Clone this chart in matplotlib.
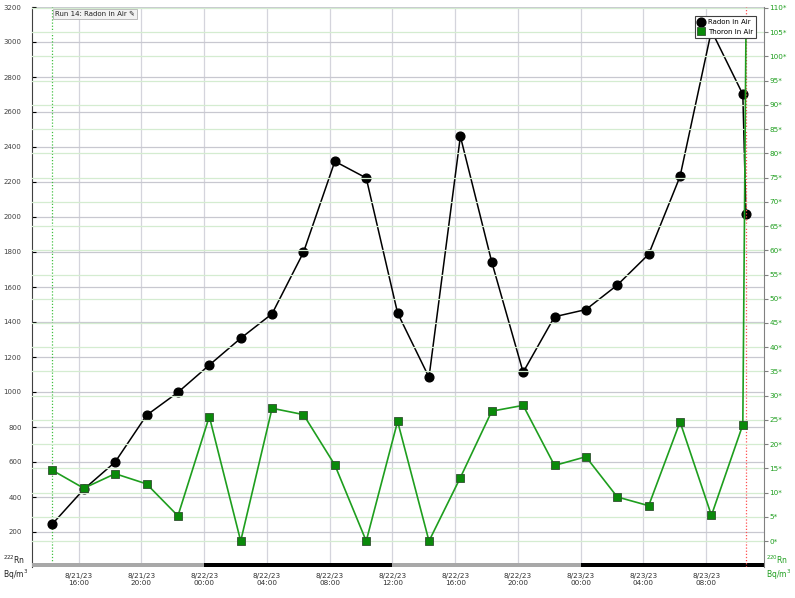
import matplotlib
matplotlib.use("Agg")
import matplotlib.pyplot as plt
import matplotlib.dates as mdates
from matplotlib.ticker import FuncFormatter, MultipleLocator
import pandas as pd

# measurement times (2 h cycles, last one partial)
times = pd.to_datetime([
    "2023-08-21 14:20", "2023-08-21 16:20", "2023-08-21 18:20", "2023-08-21 20:20",
    "2023-08-21 22:20", "2023-08-22 00:20", "2023-08-22 02:20", "2023-08-22 04:20",
    "2023-08-22 06:20", "2023-08-22 08:20", "2023-08-22 10:20", "2023-08-22 12:20",
    "2023-08-22 14:20", "2023-08-22 16:20", "2023-08-22 18:20", "2023-08-22 20:20",
    "2023-08-22 22:20", "2023-08-23 00:20", "2023-08-23 02:20", "2023-08-23 04:20",
    "2023-08-23 06:20", "2023-08-23 08:20", "2023-08-23 10:20", "2023-08-23 10:32",
])
radon = [246, 444, 600, 867, 998, 1154, 1307, 1447, 1798, 2318, 2223, 1451,
         1084, 2461, 1743, 1113, 1430, 1471, 1611, 1787, 2232, 3065, 2701, 2019]
thoron = [14.6, 10.9, 13.9, 11.8, 5.2, 25.7, 0.0, 27.4, 26.1, 15.7, 0.0, 24.7,
          0.0, 13.1, 26.8, 28.0, 15.6, 17.4, 9.1, 7.3, 24.6, 5.3, 24.0, 105.0]

# day / night bar along the bottom
bands = pd.to_datetime(["2023-08-21 12:00", "2023-08-22 00:00", "2023-08-22 12:00",
                        "2023-08-23 00:00", "2023-08-23 12:00"])
band_colors = ["#a8a8a8", "black", "#a8a8a8", "black"]

green = "#1e9e1e"

fig = plt.figure(figsize=(7.95, 5.98), dpi=100)
ax = fig.add_axes([32/795, (598-567)/598, (764-32)/795, 560/598])
ax2 = ax.twinx()

ax.set_xlim(pd.Timestamp("2023-08-21 13:02"), pd.Timestamp("2023-08-23 11:41"))
ax.set_ylim(0, 3200)
ax2.set_ylim(-5.35, 110.2)

# grids
ax.yaxis.set_major_locator(MultipleLocator(200))
ax.grid(axis="y", color="#c8c8d0", lw=0.9)
ax.xaxis.set_major_locator(mdates.HourLocator(byhour=[0, 4, 8, 12, 16, 20]))
ax.grid(axis="x", color="#d4d4dc", lw=0.9)
ax2.yaxis.set_major_locator(MultipleLocator(5))
for v in range(0, 111, 5):
    ax2.axhline(v, color="#d4ecd0", lw=0.9, zorder=0)
ax.set_axisbelow(True)

for i in range(len(band_colors)):
    ax.axvspan(bands[i], bands[i+1], ymin=0, ymax=4/560, color=band_colors[i], lw=0, zorder=3)

ax.axvline(times[0], color="#40c040", ls=(0, (1, 1.5)), lw=0.9)
ax.axvline(times[-1], color="#ff5050", ls=(0, (1, 1.5)), lw=0.9, zorder=6)

l1, = ax.plot(times, radon, color="black", lw=1.1, marker="o", ms=6.3,
              label="Radon in Air", zorder=4)
l2, = ax2.plot(times, thoron, color=green, lw=1.2, marker="s", ms=5.3,
               mfc="#0a8a0a", mec="#305030", mew=0.6, label="Thoron In Air", zorder=5)

# tick labels
def fmt(x, pos):
    d = mdates.num2date(x)
    return f"{d.month}/{d.day}/{d:%y}\n{d:%H:%M}"
ax.xaxis.set_major_formatter(FuncFormatter(fmt))
ax.tick_params(axis="x", length=0, pad=4, labelsize=5.2, labelcolor="#303030")
ax.set_yticks(range(200, 3201, 200))
ax.tick_params(axis="y", direction="in", length=3, labelsize=5, labelcolor="#404040", pad=7.5)
ax2.set_yticks(range(0, 111, 5))
ax2.set_yticklabels([f"{v}*" for v in range(0, 111, 5)])
ax2.tick_params(axis="y", direction="out", length=3, labelsize=5.2, labelcolor=green,
                color="#808080", pad=1)

for a in (ax, ax2):
    a.spines["top"].set_visible(False)
    a.spines["bottom"].set_visible(False)
ax.spines["left"].set_color("#404040")
ax.spines["right"].set_visible(False)
ax2.spines["right"].set_color("#808080")
ax2.spines["left"].set_visible(False)

# unit labels
fig.text(3/795, 1 - 566/598, "$^{222}$Rn", fontsize=5.5, color="#202020", va="bottom")
fig.text(3/795, 1 - 568/598, "Bq/m$^3$", fontsize=5.5, color="#202020", va="top")
fig.text(766/795, 1 - 566/598, "$^{220}$Rn", fontsize=5.5, color=green, va="bottom")
fig.text(766/795, 1 - 568/598, "Bq/m$^3$", fontsize=5.5, color=green, va="top")

# run title box
ax.text((55-32)/732, (567-14)/560, "Run 14: Radon in Air \u270e", transform=ax.transAxes,
        fontsize=5, va="center", ha="left", color="#202020", zorder=8,
        bbox=dict(boxstyle="square,pad=0.3", fc="#f2f2f2", ec="#b0b0b0", lw=0.6))

leg = ax2.legend([l1, l2], ["Radon in Air", "Thoron In Air"], loc="upper right",
                 bbox_to_anchor=((759-32)/732, (567-13)/560), fontsize=5,
                 fancybox=False, framealpha=1, edgecolor="#404040",
                 handlelength=0.9, handletextpad=0.5, borderpad=0.4, labelspacing=0.5)
leg.get_frame().set_linewidth(0.8)
for h in leg.legend_handles:
    h.set_linestyle("none")
leg.set_zorder(10)

fig.savefig("out.png", dpi=100)
